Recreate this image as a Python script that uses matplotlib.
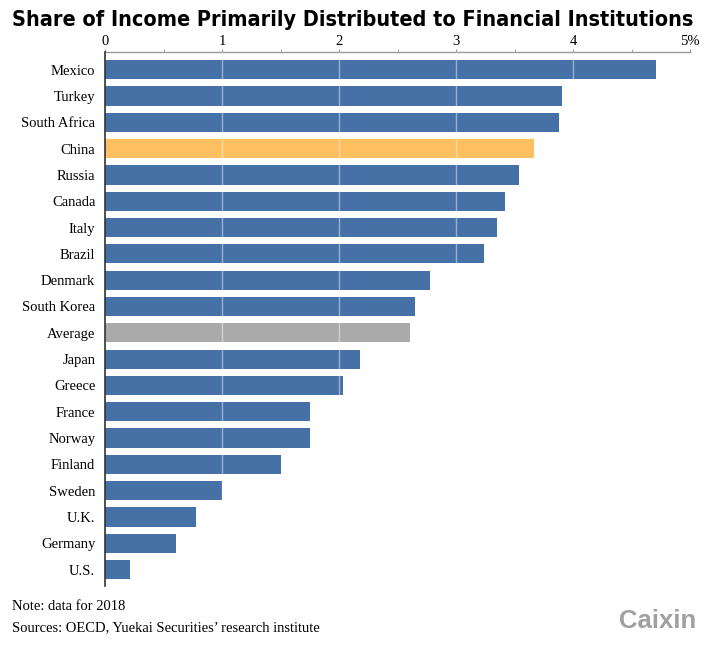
import matplotlib.pyplot as plt
from matplotlib.ticker import MultipleLocator

countries = ["Mexico", "Turkey", "South Africa", "China", "Russia", "Canada", "Italy",
             "Brazil", "Denmark", "South Korea", "Average", "Japan", "Greece", "France",
             "Norway", "Finland", "Sweden", "U.K.", "Germany", "U.S."]
shares = [4.71, 3.91, 3.88, 3.67, 3.54, 3.42, 3.35, 3.24, 2.78, 2.65, 2.61, 2.18,
          2.03, 1.75, 1.75, 1.50, 1.00, 0.78, 0.61, 0.21]
tick_labels = ["0", "1", "2", "3", "4", "5%"]

BLUE = "#4571a6"
GOLD = "#fdbf5f"
GREY = "#aaaaaa"

colors = []
for c in countries:
    if c == "China":
        colors.append(GOLD)
    elif c == "Average":
        colors.append(GREY)
    else:
        colors.append(BLUE)

serif = "Liberation Serif"

fig = plt.figure(figsize=(7.06, 6.46), dpi=100)
ax = fig.add_axes([105 / 706, 1 - 586 / 646, 585 / 706, 534 / 646])

ypos = list(range(len(countries)))
ax.barh(ypos, shares, height=0.73, color=colors, zorder=2)

ax.set_xlim(0, 5)
ax.set_ylim(19.62, -0.67)

# white gridlines drawn on top of the bars
for x in [1, 2, 3, 4]:
    ax.axvline(x, color="white", lw=1, alpha=0.45, zorder=3)

ax.xaxis.tick_top()
ax.set_xticks(range(6))
ax.set_xticklabels(tick_labels, fontfamily=serif, fontsize=10.5)
ax.xaxis.set_minor_locator(MultipleLocator(0.5))
ax.tick_params(axis="x", which="both", length=2, color="#999999", pad=1)
ax.set_yticks(ypos)
ax.set_yticklabels(countries, fontfamily=serif, fontsize=10.5)
ax.tick_params(axis="y", length=0, pad=7)

for s in ["right", "bottom"]:
    ax.spines[s].set_visible(False)
ax.spines["top"].set_color("#999999")
ax.spines["top"].set_linewidth(1)
ax.spines["left"].set_color("#333333")
ax.spines["left"].set_linewidth(1.2)
ax.spines["left"].set_zorder(4)

# title: condensed bold, shrunk until it fits the reference width
title = fig.text(0.5, 1 - 20 / 646, "Share of Income Primarily Distributed to Financial Institutions",
                 ha="center", va="center", fontsize=21, fontweight="bold",
                 fontfamily="DejaVu Sans", fontstretch="condensed")
renderer = fig.canvas.get_renderer()
while title.get_window_extent(renderer).width > 686:
    title.set_fontsize(title.get_fontsize() - 0.25)

fig.text(12 / 706, 1 - 607 / 646, "Note: data for 2018", fontfamily=serif,
         fontsize=10.5, va="center")
fig.text(12 / 706, 1 - 628 / 646, "Sources: OECD, Yuekai Securities\u2019 research institute",
         fontfamily=serif, fontsize=10.5, va="center")
fig.text(696 / 706, 1 - 621 / 646, "Caixin", ha="right", va="center", fontsize=18.5,
         fontweight="bold", color="#a0a0a0", fontfamily="Liberation Sans")

fig.savefig("out.png", dpi=100)
